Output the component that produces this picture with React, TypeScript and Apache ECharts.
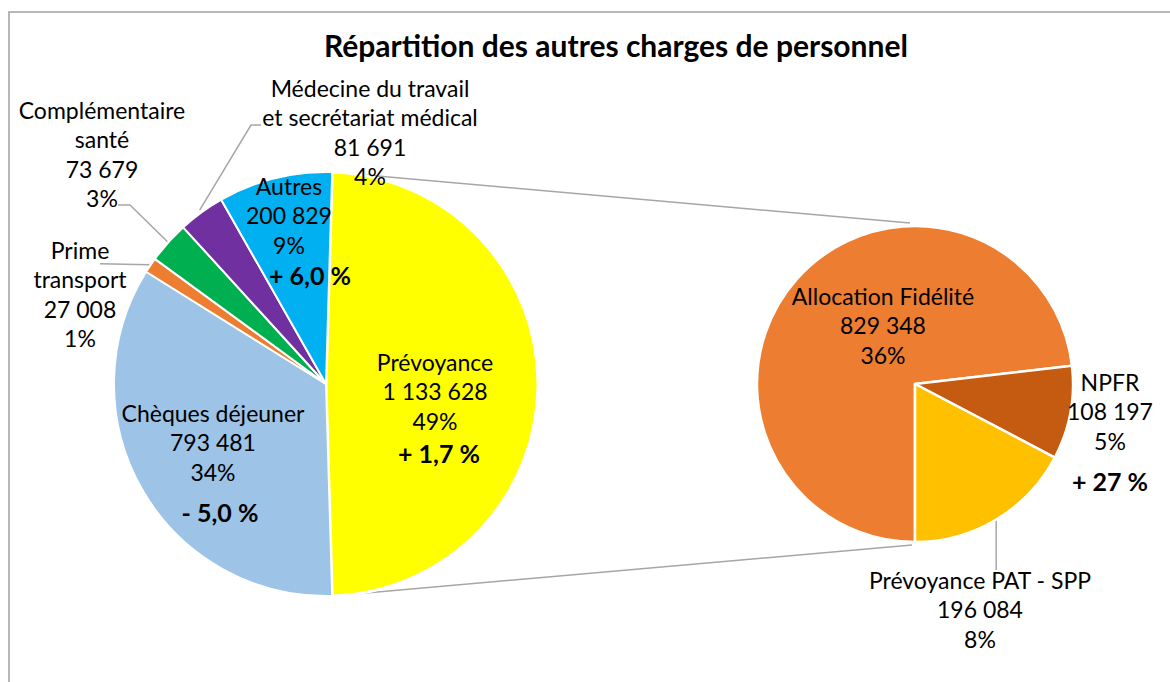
import React, { useEffect, useRef } from "react";
import * as echarts from "echarts";

// ---------- data ----------
const mainCategories = [
  "Prévoyance",
  "Chèques déjeuner",
  "Prime\ntransport",
  "Complémentaire\nsanté",
  "Médecine du travail\net secrétariat médical",
  "Autres",
];
const mainValues = [1133628, 793481, 27008, 73679, 81691, 200829];
const mainChanges = ["+ 1,7 %", "- 5,0 %", "", "", "", "+ 6,0 %"];

const detailCategories = ["Allocation Fidélité", "NPFR", "Prévoyance PAT - SPP"];
const detailValues = [829348, 108197, 196084];
const detailChanges = ["", "+ 27 %", ""];

const titleText = "Répartition des autres charges de personnel";

// ---------- layout / style ----------
const mainColors = ["#FFFF00", "#9DC3E6", "#ED7D31", "#00B050", "#7030A0", "#00B0F0"];
const detailColors = ["#ED7D31", "#C55A11", "#FFC000"];
const L = { cx: 326, cy: 384, r: 212 };
const R = { cx: 915, cy: 384, r: 158 };
const mainLabelPos = [
  [435, 347],
  [213, 398],
  [80, 235],
  [102, 95],
  [370, 73],
  [289, 171],
];
const mainChangeStyle = ["dP", "dC", "dP", "dP", "dP", "dA"];
const detailLabelPos = [
  [883, 281],
  [1110, 367],
  [980, 565],
];
const detailChangeStyle = ["dP", "dN", "dP"];
const FONT = "Lato, 'Noto Sans', sans-serif";
const GRAY = "#A6A6A6";

const fmt = (v: number) => String(v).replace(/\B(?=(\d{3})+(?!\d))/g, " ");
const sum = (a: number[]) => a.reduce((s, x) => s + x, 0);
const grandTotal = sum(mainValues);

function polar(c: { cx: number; cy: number }, degFromTop: number, r: number) {
  const a = (degFromTop * Math.PI) / 180;
  return [c.cx + r * Math.sin(a), c.cy - r * Math.cos(a)];
}

export default function App() {
  const ref = useRef<HTMLDivElement>(null);

  useEffect(() => {
    if (!ref.current) return;
    const chart = echarts.init(ref.current, undefined, { renderer: "svg" });

    const mainTotal = grandTotal;
    const firstShare = mainValues[0] / mainTotal;
    const mainStartAngle = firstShare * 180; // combined slice centred on 3 o'clock
    const topOffset = 90 - mainStartAngle; // degrees clockwise from top
    const mainAngles: number[][] = [];
    let acc = topOffset;
    mainValues.forEach((v) => {
      const span = (v / mainTotal) * 360;
      mainAngles.push([acc, acc + span]);
      acc += span;
    });
    const detailTotal = sum(detailValues);
    const detailAngles: number[][] = [];
    let acc2 = 180;
    detailValues.forEach((v) => {
      const span = (v / detailTotal) * 360;
      detailAngles.push([acc2, acc2 + span]);
      acc2 += span;
    });
    const mid = (a: number[]) => (a[0] + a[1]) / 2;

    const labelFormatter = (changes: string[], styles: string[]) => (p: any) => {
      const pct = Math.round((p.value / grandTotal) * 100);
      let s = `${p.name}\n${fmt(p.value)}\n${pct}%`;
      const ch = changes[p.dataIndex];
      if (ch) s += `\n{${styles[p.dataIndex]}|${ch}}`;
      return s;
    };

    const bold = { fontFamily: FONT, fontWeight: "bold", fontSize: 25, color: "#000" };
    const rich = {
      dA: { ...bold, lineHeight: 31, padding: [0, 0, 0, 42] },
      dP: { ...bold, lineHeight: 35, padding: [0, 0, 0, 8] },
      dC: { ...bold, lineHeight: 50, padding: [0, 0, 0, 14] },
      dN: { ...bold, lineHeight: 50, padding: [0, 0, 0, 0] },
    };

    const baseLabel = {
      show: true,
      position: "inside",
      fontFamily: FONT,
      fontSize: 23,
      lineHeight: 29.5,
      color: "#000",
      rich,
    };

    // leader lines
    const prime = polar(L, mid(mainAngles[2]), L.r + 1);
    const compl = polar(L, mid(mainAngles[3]), L.r + 1);
    const med = polar(L, mid(mainAngles[4]), L.r + 3);
    const pat = polar(R, mid(detailAngles[2]), R.r - 1);
    const leaders = [
      [prime, [100, prime[1] - 1]],
      [compl, [130, 205], [118, 205]],
      [med, [251, 125], [261, 125]],
      [pat, [pat[0], 570]],
    ];
    // connectors between the two pies
    const topL = polar(L, mainAngles[0][0], L.r);
    const botL = polar(L, mainAngles[0][1], L.r);
    const connectors = [
      [topL, [R.cx - 5, R.cy - R.r - 3]],
      [botL, [R.cx - 3, R.cy + R.r + 3]],
    ];

    const option: any = {
      animation: false,
      backgroundColor: "#fff",
      title: {
        text: titleText,
        left: 319,
        top: 25,
        textStyle: { fontFamily: FONT, fontWeight: "bold", fontSize: 30, color: "#000" },
      },
      graphic: [
        {
          type: "rect",
          shape: { x: 9, y: 12, width: 1250, height: 750 },
          style: { fill: "none", stroke: "#A0A0A0", lineWidth: 1.5 },
          silent: true,
          z: 0,
        },
        ...connectors.map((pts) => ({
          type: "polyline",
          shape: { points: pts },
          style: { fill: "none", stroke: GRAY, lineWidth: 1.5 },
          silent: true,
          z: 0,
        })),
        ...leaders.map((pts) => ({
          type: "polyline",
          shape: { points: pts },
          style: { fill: "none", stroke: GRAY, lineWidth: 1.5 },
          silent: true,
          z: 0,
        })),
      ],
      series: [
        {
          type: "pie",
          center: [L.cx, L.cy],
          radius: L.r,
          startAngle: mainStartAngle,
          clockwise: true,
          avoidLabelOverlap: false,
          emphasis: { disabled: true },
          itemStyle: { borderColor: "#fff", borderWidth: 2 },
          label: { ...baseLabel, formatter: labelFormatter(mainChanges, mainChangeStyle) },
          labelLine: { show: false },
          labelLayout: (params: any) => {
            const p = mainLabelPos[params.dataIndex];
            return { x: p[0], y: p[1], align: "center", verticalAlign: "top" };
          },
          data: mainCategories.map((name, i) => ({
            name,
            value: mainValues[i],
            itemStyle: { color: mainColors[i], borderWidth: i === 0 ? 3 : 2 },
          })),
          z: 2,
        },
        {
          type: "pie",
          center: [R.cx, R.cy],
          radius: R.r,
          startAngle: -90,
          clockwise: true,
          avoidLabelOverlap: false,
          emphasis: { disabled: true },
          itemStyle: { borderColor: "#fff", borderWidth: 2.5 },
          label: { ...baseLabel, formatter: labelFormatter(detailChanges, detailChangeStyle) },
          labelLine: { show: false },
          labelLayout: (params: any) => {
            const p = detailLabelPos[params.dataIndex];
            return { x: p[0], y: p[1], align: "center", verticalAlign: "top" };
          },
          data: detailCategories.map((name, i) => ({
            name,
            value: detailValues[i],
            itemStyle: { color: detailColors[i] },
          })),
          z: 2,
        },
      ],
    };

    chart.setOption(option);
    return () => chart.dispose();
  }, []);

  return (
    <div
      ref={ref}
      style={{ position: "fixed", left: 0, top: 0, width: 1170, height: 682, background: "#fff" }}
    />
  );
}
